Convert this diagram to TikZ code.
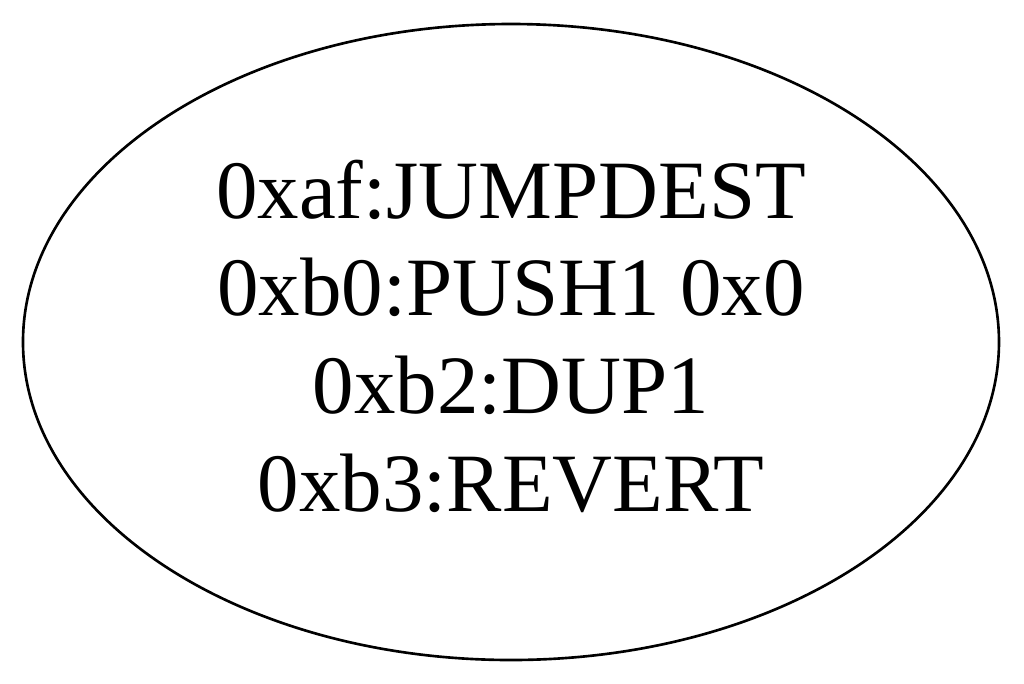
\documentclass[tikz,border=0pt]{standalone}
\usepackage{fontspec}
\setmainfont{Liberation Serif}
\usetikzlibrary{shapes.geometric}

\begin{document}
\begin{tikzpicture}

    % --- Canvas ---
    % 1024 x 683 px, one px is 0.01cm, centre of the block at the origin
    \useasboundingbox (-5.11,-3.41) rectangle (5.13,3.42);

    % --- Block node ---
    \node[ellipse, draw, line width=0.75pt, inner sep=0pt,
          minimum width=9.76cm, minimum height=6.36cm] (blk) at (0,0) {};

    % --- Instructions of the block ---
    \node[align=center, inner sep=0pt, font=\fontsize{23.6}{27.8}\selectfont]
        (code) at (0,0.06)
        {0xaf:JUMPDEST\\0xb0:PUSH1 0x0\\0xb2:DUP1\\0xb3:REVERT};

\end{tikzpicture}
\end{document}
